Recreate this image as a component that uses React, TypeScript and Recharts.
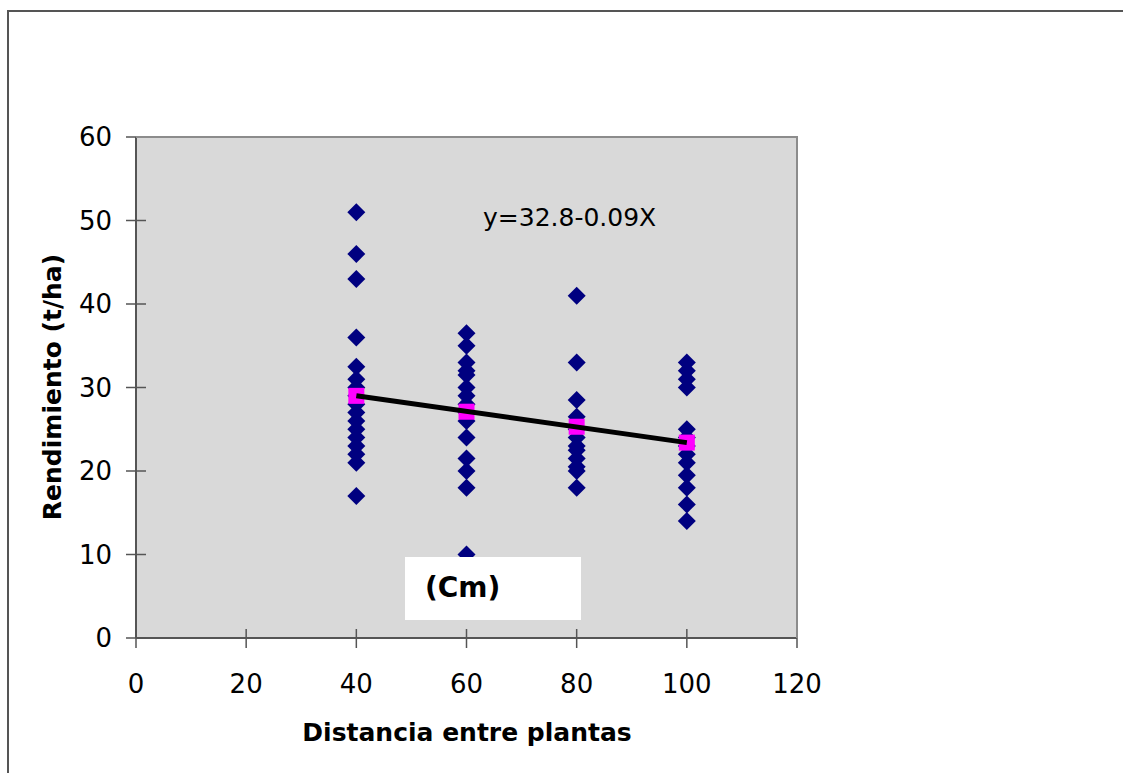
import React from 'react';
import { ScatterChart, Scatter, XAxis, YAxis, CartesianGrid } from 'recharts';

// tick labels
const xTicks = [0, 20, 40, 60, 80, 100, 120];
const yTicks = [0, 10, 20, 30, 40, 50, 60];

// observed yields (t/ha) per plant distance (cm)
const yield40 = [51, 46, 43, 36, 32.5, 31, 30, 29, 28, 27, 26, 25, 24, 23, 22, 21, 17];
const yield60 = [36.5, 35, 33, 32, 31.5, 30, 29, 28, 27, 26, 24, 21.5, 20, 18, 10];
const yield80 = [41, 33, 28.5, 26.5, 25, 24, 23, 22.5, 21.5, 20.5, 20, 18];
const yield100 = [33, 32, 31, 30, 25, 24, 23, 22, 21, 19.5, 18, 16, 14];

const distances = [40, 60, 80, 100];
const meanYield = [29.0, 27.1, 25.3, 23.4];

// fitted line endpoints y=32.8-0.09X
const fitX = [40, 100];
const fitY = [29.0, 23.4];

const columns = [yield40, yield60, yield80, yield100];
const observed = columns.flatMap((vals, i) => vals.map((v) => ({ x: distances[i], y: v })));
const means = distances.map((d, i) => ({ x: d, y: meanYield[i] }));
const fit = fitX.map((d, i) => ({ x: d, y: fitY[i] }));

const tickFont = 'DejaVu Sans';

const YTick = (props: any) => {
  const { x, y, payload } = props;
  return (
    <g>
      <line x1={x - 10} x2={x + 10} y1={y} y2={y} stroke="#555" strokeWidth={1.5} />
      <text x={x - 24} y={y} textAnchor="end" dominantBaseline="central" fontSize={26} fontFamily={tickFont} fill="#000">
        {payload.value}
      </text>
    </g>
  );
};

const XTick = (props: any) => {
  const { x, y, payload } = props;
  return (
    <g>
      <line x1={x} x2={x} y1={y - 9} y2={y + 10} stroke="#555" strokeWidth={1.5} />
      <text x={x} y={y + 46} textAnchor="middle" dominantBaseline="central" fontSize={26} fontFamily={tickFont} fill="#000">
        {payload.value}
      </text>
    </g>
  );
};

const Diamond = (props: any) => {
  const { cx, cy } = props;
  const r = 9;
  return <polygon points={`${cx},${cy - r} ${cx + r},${cy} ${cx},${cy + r} ${cx - r},${cy}`} fill="#000080" />;
};

const Square = (props: any) => {
  const { cx, cy } = props;
  return <rect x={cx - 8} y={cy - 8} width={16} height={16} fill="#ff00ff" />;
};

const NoDot = () => <g />;

export default function App() {
  return (
    <div style={{ position: 'absolute', left: 0, top: 0, width: 1123, height: 773, background: '#fff', overflow: 'hidden' }}>
      <div
        style={{
          position: 'absolute', left: 7, top: 10, width: 1116, height: 763,
          borderTop: '2px solid #555', borderLeft: '2px solid #555', boxSizing: 'border-box',
        }}
      />
      <ScatterChart width={1123} height={773} margin={{ top: 137, right: 326, bottom: 0, left: 0 }}>
        <CartesianGrid fill="#d9d9d9" horizontal={false} vertical={false} />
        <XAxis
          type="number"
          dataKey="x"
          domain={[0, 120]}
          ticks={xTicks}
          height={135}
          tickSize={0}
          tickMargin={0}
          tickLine={false}
          tick={<XTick />}
          axisLine={{ stroke: '#555', strokeWidth: 2 }}
        />
        <YAxis
          type="number"
          dataKey="y"
          domain={[0, 60]}
          ticks={yTicks}
          width={136}
          tickSize={0}
          tickMargin={0}
          tickLine={false}
          tick={<YTick />}
          axisLine={{ stroke: '#555', strokeWidth: 2 }}
        />
        <Scatter data={observed} shape={<Diamond />} isAnimationActive={false} />
        <Scatter data={means} shape={<Square />} isAnimationActive={false} />
        <Scatter
          data={fit}
          shape={<NoDot />}
          line={{ stroke: '#000', strokeWidth: 5 }}
          lineType="joint"
          isAnimationActive={false}
        />
      </ScatterChart>
      <div
        style={{
          position: 'absolute', left: 136, top: 136, width: 662, height: 502,
          borderTop: '2px solid #8c8c8c', borderRight: '2px solid #8c8c8c', boxSizing: 'border-box',
          pointerEvents: 'none',
        }}
      />
      <div
        style={{
          position: 'absolute', left: 483, top: 204, fontFamily: tickFont, fontSize: 25,
          lineHeight: '28px', whiteSpace: 'nowrap', color: '#000',
        }}
      >
        y=32.8-0.09X
      </div>
      <div
        style={{
          position: 'absolute', left: 405, top: 557, width: 176, height: 63, background: '#fff',
        }}
      >
        <span
          style={{
            position: 'absolute', left: 20, top: 15, fontFamily: 'DejaVu Sans', fontWeight: 'bold',
            fontSize: 28, lineHeight: '32px', whiteSpace: 'nowrap',
          }}
        >
          (Cm)
        </span>
      </div>
      <div
        style={{
          position: 'absolute', left: 467, top: 732, transform: 'translate(-50%, -50%)',
          fontFamily: 'DejaVu Sans', fontWeight: 'bold', fontSize: 25, whiteSpace: 'nowrap',
        }}
      >
        Distancia entre plantas
      </div>
      <div
        style={{
          position: 'absolute', left: 52, top: 387, transform: 'translate(-50%, -50%) rotate(-90deg)',
          fontFamily: 'DejaVu Sans', fontWeight: 'bold', fontSize: 25, whiteSpace: 'nowrap',
        }}
      >
        Rendimiento (t/ha)
      </div>
    </div>
  );
}
